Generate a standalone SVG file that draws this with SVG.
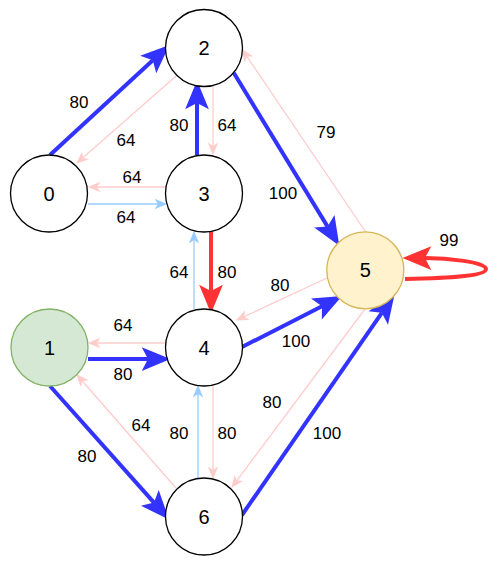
<svg xmlns="http://www.w3.org/2000/svg" width="499" height="570" viewBox="0 0 499 570">
<style>
.n{fill:#fff;stroke:#000;stroke-width:1.3}
.nt{font-family:"Liberation Sans",Arial,sans-serif;font-size:20px;fill:#000;text-anchor:middle}
.el{font-family:"Liberation Sans",Arial,sans-serif;font-size:17px;fill:#000;text-anchor:middle}
.e{fill:none}
.tb{stroke:#3333FF;stroke-width:4;marker-end:url(#ab)}
.tr{stroke:#FF3333;stroke-width:4;marker-end:url(#ar)}
.pk{stroke:#FFCCCC;stroke-width:1.3;marker-end:url(#ap)}
.lb{stroke:#99CCFF;stroke-width:1.3;marker-end:url(#al)}
</style>
<defs>
<marker id="ab" markerUnits="userSpaceOnUse" markerWidth="30" markerHeight="30" viewBox="0 -10 24 20" refX="5" refY="0" orient="auto" overflow="visible"><path d="M0,-9.5 L23,0 L0,9.5 L5,0 Z" fill="#3333FF"/></marker>
<marker id="ar" markerUnits="userSpaceOnUse" markerWidth="30" markerHeight="30" viewBox="0 -10 24 20" refX="5" refY="0" orient="auto" overflow="visible"><path d="M0,-9.5 L23,0 L0,9.5 L5,0 Z" fill="#FF3333"/></marker>
<marker id="ap" markerUnits="userSpaceOnUse" markerWidth="14" markerHeight="14" viewBox="0 -5 12 10" refX="3" refY="0" orient="auto" overflow="visible"><path d="M0,-4.5 L11,0 L0,4.5 L3,0 Z" fill="#FFCCCC"/></marker>
<marker id="al" markerUnits="userSpaceOnUse" markerWidth="14" markerHeight="14" viewBox="0 -5 12 10" refX="3" refY="0" orient="auto" overflow="visible"><path d="M0,-4.5 L11,0 L0,4.5 L3,0 Z" fill="#99CCFF"/></marker>
</defs>
<g id="connectors">
<path class="e tb" d="M50,155 L152.8,60.2"/>
<path class="e tb" d="M197,155 L197,103"/>
<path class="e tb" d="M233.7,72.8 L327.6,226.6"/>
<path class="e tb" d="M242,347 L322,306.2"/>
<path class="e tb" d="M242,515 L381.8,312.8"/>
<path class="e tb" d="M88,359 L148,359"/>
<path class="e tb" d="M50,386 L154,502.6"/>
<path class="e tr" d="M211,232 L211,291"/>
<path class="e tr" d="M405,279 C450,278 486,276 486,269 C486,262 447,258 425,258"/>
<path class="e pk" d="M213,85 L213,146"/>
<path class="e pk" d="M176,76 L83,157.7"/>
<path class="e pk" d="M166,187 L97,187"/>
<path class="e pk" d="M365,231 L247,56.6"/>
<path class="e pk" d="M327,278 L244.2,316.6"/>
<path class="e pk" d="M365,309 L236.8,480.6"/>
<path class="e pk" d="M166,343 L97,343"/>
<path class="e pk" d="M176,488 L82.3,381"/>
<path class="e pk" d="M213,386 L213,470"/>
<path class="e lb" d="M88,204 L158,204"/>
<path class="e lb" d="M194,309 L194,240"/>
<path class="e lb" d="M198,478 L198,394"/>
<g id="edge-labels">
<text class="el" x="79" y="108">80</text>
<text class="el" x="126" y="146">64</text>
<text class="el" x="179" y="131">80</text>
<text class="el" x="227" y="131">64</text>
<text class="el" x="132" y="183">64</text>
<text class="el" x="126" y="223">64</text>
<text class="el" x="283" y="199">100</text>
<text class="el" x="326" y="138">79</text>
<text class="el" x="449" y="246">99</text>
<text class="el" x="280" y="291">80</text>
<text class="el" x="296" y="347">100</text>
<text class="el" x="272" y="408">80</text>
<text class="el" x="327" y="439">100</text>
<text class="el" x="179" y="278">64</text>
<text class="el" x="227" y="278">80</text>
<text class="el" x="123" y="331">64</text>
<text class="el" x="123" y="380">80</text>
<text class="el" x="87" y="462">80</text>
<text class="el" x="141" y="431">64</text>
<text class="el" x="179" y="439">80</text>
<text class="el" x="227" y="439">80</text>
</g>
</g>
<g id="node0"><circle class="n" cx="49" cy="193.5" r="38.5"/><text class="nt" x="49" y="200.5">0</text></g>
<g id="node1"><circle class="n" cx="49.5" cy="347.5" r="38.5" style="fill:#d5e8d4;stroke:#82b366"/><text class="nt" x="49.5" y="354.5">1</text></g>
<g id="node2"><circle class="n" cx="204" cy="48" r="38.5"/><text class="nt" x="204" y="55">2</text></g>
<g id="node3"><circle class="n" cx="204" cy="193.5" r="38.5"/><text class="nt" x="204" y="200.5">3</text></g>
<g id="node4"><circle class="n" cx="204" cy="347.5" r="38.5"/><text class="nt" x="204" y="354.5">4</text></g>
<g id="node5"><circle class="n" cx="365.3" cy="270.3" r="38.5" style="fill:#fff2cc;stroke:#d6b656"/><text class="nt" x="365.3" y="277.3">5</text></g>
<g id="node6"><circle class="n" cx="204" cy="516.5" r="38.5"/><text class="nt" x="204" y="523.5">6</text></g>
</svg>
